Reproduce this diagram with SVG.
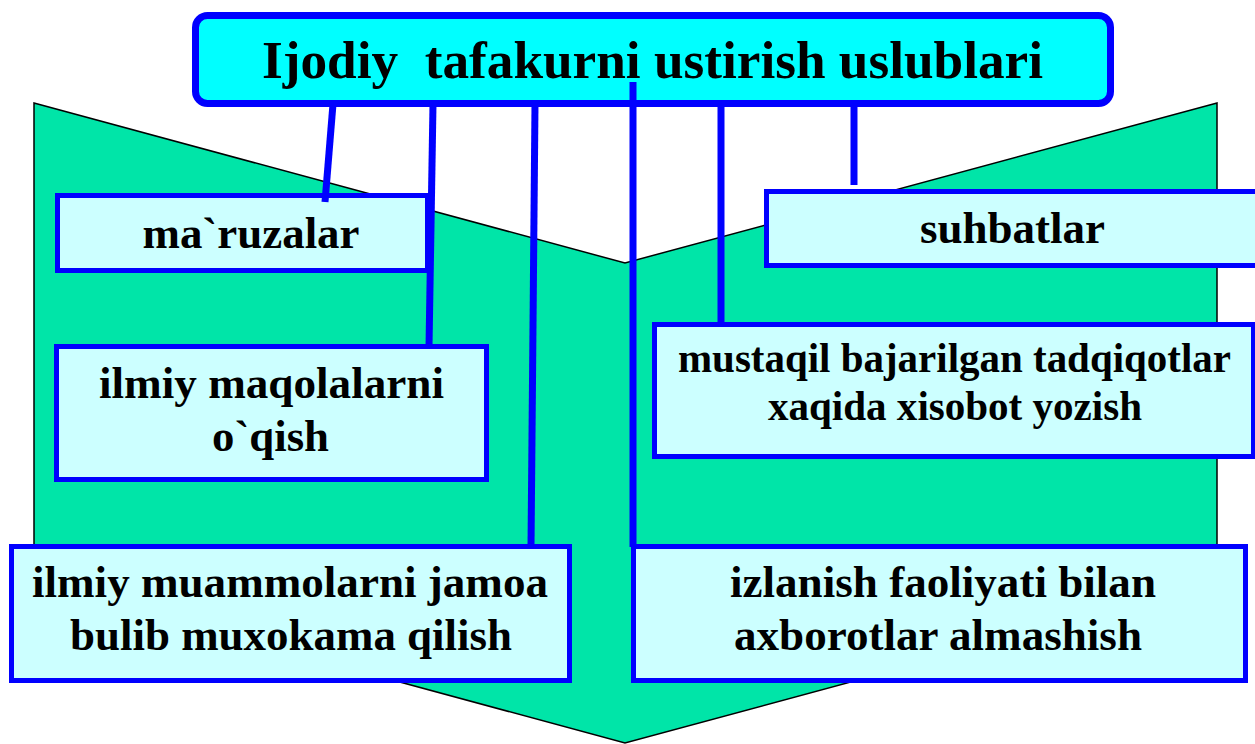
<svg xmlns="http://www.w3.org/2000/svg" width="1255" height="744" viewBox="0 0 1255 744">
<style>
.bg{fill:#00E5A8;stroke:#000;stroke-width:1.5}
.title{fill:#00FFFF;stroke:#0000FF;stroke-width:7}
.box{fill:#CCFFFF;stroke:#0000FF;stroke-width:5}
.conn line{stroke:#0000FF;stroke-width:7;stroke-linecap:butt}
text{font-family:"Liberation Serif","Times New Roman",serif;font-weight:bold;fill:#000;text-anchor:middle}
.t{font-size:53px}
.n{font-size:45px}
.s{font-size:42px}
</style>
<rect width="1255" height="744" fill="#FFFFFF"/>
<polygon class="bg" points="34,103 625,263 1217,103 1217,583 625,743 34,583"/>
<g id="title">
<rect class="title" x="195.5" y="15.5" width="915" height="88" rx="12"/>
<text class="t" x="652.5" y="78" xml:space="preserve" textLength="781" lengthAdjust="spacingAndGlyphs">Ijodiy  tafakurni ustirish uslublari</text>
</g>
<g id="maruzalar">
<rect class="box" x="57.5" y="195.5" width="370" height="75"/>
<text class="n" x="251" y="248" textLength="217" lengthAdjust="spacingAndGlyphs">ma`ruzalar</text>
</g>
<g id="suhbatlar">
<rect class="box" x="766.5" y="191.5" width="492" height="74"/>
<text class="n" x="1012.5" y="243" textLength="185" lengthAdjust="spacingAndGlyphs">suhbatlar</text>
</g>
<g id="maqolalar">
<rect class="box" x="56.5" y="346.5" width="430" height="133"/>
<text class="n" x="271.5" y="398" textLength="345" lengthAdjust="spacingAndGlyphs">ilmiy maqolalarni</text>
<text class="n" x="270.5" y="451" textLength="117" lengthAdjust="spacingAndGlyphs">o`qish</text>
</g>
<g id="mustaqil">
<rect class="box" x="654.5" y="324.5" width="599" height="132"/>
<text class="s" x="954.5" y="372" textLength="553" lengthAdjust="spacingAndGlyphs">mustaqil bajarilgan tadqiqotlar</text>
<text class="s" x="955" y="420" textLength="374" lengthAdjust="spacingAndGlyphs">xaqida xisobot yozish</text>
</g>
<g id="muammolar">
<rect class="box" x="11.5" y="546.5" width="558" height="134"/>
<text class="n" x="290" y="597" textLength="516" lengthAdjust="spacingAndGlyphs">ilmiy muammolarni jamoa</text>
<text class="n" x="291" y="650" textLength="442" lengthAdjust="spacingAndGlyphs">bulib muxokama qilish</text>
</g>
<g id="izlanish">
<rect class="box" x="633.5" y="546.5" width="612" height="134"/>
<text class="n" x="943" y="597" textLength="426" lengthAdjust="spacingAndGlyphs">izlanish faoliyati bilan</text>
<text class="n" x="938" y="650" textLength="408" lengthAdjust="spacingAndGlyphs">axborotlar almashish</text>
</g>
<g id="connectors" class="conn">
<line x1="333" y1="104" x2="325" y2="202"/>
<line x1="433" y1="104" x2="429" y2="347"/>
<line x1="535" y1="104" x2="531" y2="547"/>
<line x1="633" y1="82" x2="633" y2="547"/>
<line x1="721" y1="104" x2="721" y2="325"/>
<line x1="854" y1="104" x2="854" y2="185"/>
</g>
</svg>
